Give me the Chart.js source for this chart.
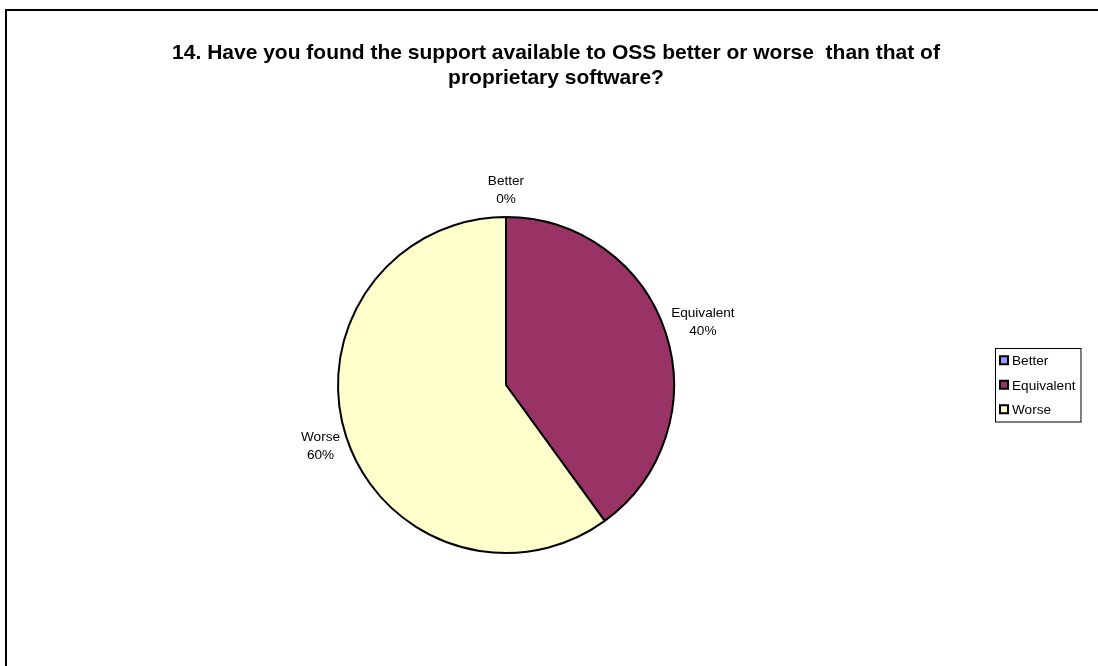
<!DOCTYPE html>
<html>
<head>
<meta charset="utf-8">
<script src="https://cdn.jsdelivr.net/npm/chart.js@4"></script>
<style>
  html, body { margin: 0; padding: 0; background: #fff; }
  #wrap { position: relative; width: 1098px; height: 666px; }
</style>
</head>
<body>
<div id="wrap"><canvas id="pieChart" width="1098" height="666"></canvas></div>
<script>
// data
const titleLines = ['14. Have you found the support available to OSS better or worse  than that of', 'proprietary software?'];
const categories = ['Better', 'Equivalent', 'Worse'];
const percents   = [0, 40, 60];
const colors     = ['#9999FF', '#993366', '#FFFFCC'];

const FONT = '"Liberation Sans", Arial, sans-serif';

// frame, title, outside labels and boxed legend
const excelBits = {
  id: 'excelBits',
  afterDraw(chart) {
    const ctx = chart.ctx;
    const meta = chart.getDatasetMeta(0);
    const ds = chart.data.datasets[0];
    ctx.save();

    // frame (only top + left are in view)
    ctx.strokeStyle = '#000';
    ctx.lineWidth = 2;
    ctx.beginPath();
    ctx.moveTo(6, 668);
    ctx.lineTo(6, 10);
    ctx.lineTo(1100, 10);
    ctx.stroke();

    // title
    ctx.fillStyle = '#000';
    ctx.font = 'bold 21px ' + FONT;
    ctx.textAlign = 'center';
    ctx.textBaseline = 'alphabetic';
    titleLines.forEach((t, i) => ctx.fillText(t, 556, 59 + i * 25));

    // data labels
    const extra = [28, 39, 27];
    ctx.font = '13.6px ' + FONT;
    ctx.textBaseline = 'middle';
    meta.data.forEach((arc, i) => {
      const mid = (arc.startAngle + arc.endAngle) / 2;
      const d = arc.outerRadius + extra[i];
      const x = arc.x + Math.cos(mid) * d;
      const y = arc.y + Math.sin(mid) * d;
      ctx.fillText(chart.data.labels[i], x, y - 8);
      ctx.fillText(ds.data[i] + '%', x, y + 10);
    });

    // legend
    ctx.font = '13.6px ' + FONT;
    ctx.textAlign = 'left';
    const lx = 995, ly = 348, rowH = 24.5;
    const textW = Math.max(...chart.data.labels.map(l => ctx.measureText(l).width));
    const boxW = 18 + textW + 4;
    const boxH = rowH * chart.data.labels.length;
    ctx.lineWidth = 1;
    ctx.strokeStyle = '#000';
    ctx.strokeRect(lx + 0.5, ly + 0.5, boxW, boxH);
    chart.data.labels.forEach((l, i) => {
      const cy = ly + rowH * (i + 0.5);
      ctx.fillStyle = ds.backgroundColor[i];
      ctx.fillRect(lx + 5, cy - 4, 8, 8);
      ctx.lineWidth = 2;
      ctx.strokeRect(lx + 5, cy - 4, 8, 8);
      ctx.fillStyle = '#000';
      ctx.fillText(l, lx + 17, cy + 1);
    });
    ctx.restore();
  }
};

new Chart(document.getElementById('pieChart'), {
  type: 'pie',
  data: {
    labels: categories,
    datasets: [{
      data: percents,
      backgroundColor: colors,
      borderColor: '#000',
      borderWidth: 2,
      radius: 168
    }]
  },
  options: {
    responsive: false,
    animation: false,
    layout: { padding: { left: 306, right: 392, top: 185, bottom: 81 } },
    plugins: {
      legend: { display: false },
      title: { display: false },
      tooltip: { enabled: false }
    }
  },
  plugins: [excelBits]
});
</script>
</body>
</html>
